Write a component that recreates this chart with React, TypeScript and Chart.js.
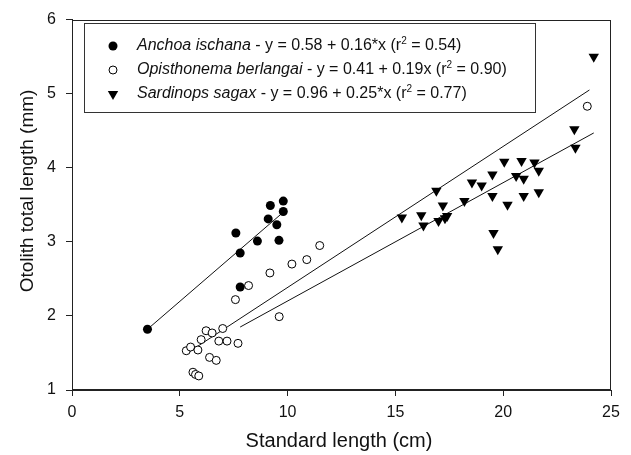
import React, { useEffect, useRef } from "react";
import { Chart, registerables } from "chart.js";

Chart.register(...registerables);

// ---- Data ----
const anchoaX = [3.5, 7.6, 7.8, 7.8, 8.6, 9.1, 9.2, 9.5, 9.6, 9.8, 9.8];
const anchoaY = [1.82, 3.12, 2.85, 2.39, 3.01, 3.31, 3.49, 3.23, 3.02, 3.55, 3.41];

const opisX = [5.3, 5.5, 5.61, 5.73, 5.84, 5.88, 5.99, 6.22, 6.38, 6.5, 6.69, 6.81, 6.99, 7.19, 7.58, 7.7, 8.19, 9.18, 9.61, 10.2, 10.89, 11.49, 23.9];
const opisY = [1.53, 1.58, 1.24, 1.21, 1.54, 1.19, 1.68, 1.8, 1.44, 1.77, 1.4, 1.66, 1.83, 1.66, 2.22, 1.63, 2.41, 2.58, 1.99, 2.7, 2.76, 2.95, 4.83];

const sardX = [15.3, 16.2, 16.3, 16.9, 17.0, 17.2, 17.3, 17.4, 18.2, 18.55, 19.0, 19.5, 19.5, 19.55, 19.75, 20.05, 20.2, 20.6, 20.85, 20.95, 20.95, 21.45, 21.65, 21.65, 23.3, 23.35, 24.2];
const sardY = [3.33, 3.36, 3.22, 3.69, 3.28, 3.49, 3.32, 3.35, 3.55, 3.8, 3.76, 3.91, 3.62, 3.12, 2.9, 4.08, 3.5, 3.89, 4.09, 3.85, 3.62, 4.07, 3.96, 3.67, 4.52, 4.27, 5.5];

// regression line end points (as drawn)
const anchoaLineX = [3.5, 9.8];
const anchoaLineY = [1.82, 3.4];
const opisLineX = [5.25, 24.0];
const opisLineY = [1.48, 5.05];
const sardLineX = [7.8, 24.2];
const sardLineY = [1.85, 4.47];

const xTicks = [0, 5, 10, 15, 20, 25];
const yTicks = [1, 2, 3, 4, 5, 6];

const legendNames = ["Anchoa ischana", "Opisthonema berlangai", "Sardinops sagax"];
const legendEquations = [" - y = 0.58 + 0.16*x (r", " - y = 0.41 + 0.19x (r", " - y = 0.96 + 0.25*x (r"];
const legendR2 = [" = 0.54)", " = 0.90)", " = 0.77)"];

const xTitle = "Standard length (cm)";
const yTitle = "Otolith total length (mm)";

const FONT = '"Liberation Sans", Arial, Helvetica, sans-serif';

function pts(xs: number[], ys: number[]) {
  return xs.map((x, i) => ({ x, y: ys[i] }));
}

export default function App() {
  const ref = useRef<HTMLCanvasElement>(null);

  useEffect(() => {
    document.body.style.margin = "0";
    const canvas = ref.current!;

    const decorPlugin = {
      id: "decor",
      afterDraw(chart: any) {
        const { ctx, chartArea: a } = chart;
        ctx.save();
        // frame
        ctx.strokeStyle = "#222";
        ctx.lineWidth = 1;
        ctx.strokeRect(Math.round(a.left) + 0.5, Math.round(a.top) + 0.5, Math.round(a.right - a.left) - 1, Math.round(a.bottom - a.top) - 1);

        // axis titles
        ctx.fillStyle = "#111";
        ctx.font = `20px ${FONT}`;
        ctx.textAlign = "center";
        ctx.textBaseline = "middle";
        ctx.fillText(xTitle, 339, 441);
        ctx.save();
        ctx.font = `19px ${FONT}`;
        ctx.translate(28, 191);
        ctx.rotate(-Math.PI / 2);
        ctx.fillText(yTitle, 0, 0);
        ctx.restore();

        // legend box
        const bx = 84, by = 23, bw = 451, bh = 89;
        ctx.fillStyle = "#fff";
        ctx.fillRect(bx, by, bw, bh);
        ctx.strokeStyle = "#333";
        ctx.strokeRect(bx + 0.5, by + 0.5, bw, bh);

        const rows = [46, 70, 94];
        const mx = 113;
        // markers
        ctx.fillStyle = "#000";
        ctx.strokeStyle = "#000";
        ctx.beginPath();
        ctx.arc(mx, rows[0], 4.5, 0, Math.PI * 2);
        ctx.fill();
        ctx.beginPath();
        ctx.fillStyle = "#fff";
        ctx.arc(mx, rows[1], 4, 0, Math.PI * 2);
        ctx.fill();
        ctx.stroke();
        ctx.fillStyle = "#000";
        const r = 6;
        ctx.beginPath();
        for (let k = 0; k < 3; k++) {
          const ang = Math.PI + (k * 2 * Math.PI) / 3;
          const px = mx + Math.sin(ang) * r;
          const py = rows[2] - Math.cos(ang) * r;
          if (k === 0) ctx.moveTo(px, py);
          else ctx.lineTo(px, py);
        }
        ctx.closePath();
        ctx.fill();

        // texts
        ctx.textAlign = "left";
        ctx.textBaseline = "middle";
        ctx.fillStyle = "#111";
        for (let i = 0; i < 3; i++) {
          let x = 137;
          const y = rows[i];
          ctx.font = `italic 16px ${FONT}`;
          ctx.fillText(legendNames[i], x, y);
          x += ctx.measureText(legendNames[i]).width;
          ctx.font = `16px ${FONT}`;
          ctx.fillText(legendEquations[i], x, y);
          x += ctx.measureText(legendEquations[i]).width;
          ctx.font = `10px ${FONT}`;
          ctx.fillText("2", x, y - 5);
          x += ctx.measureText("2").width;
          ctx.font = `16px ${FONT}`;
          ctx.fillText(legendR2[i], x, y);
        }
        ctx.restore();
      },
    };

    const chart = new Chart(canvas, {
      type: "scatter",
      data: {
        datasets: [
          {
            label: legendNames[0],
            data: pts(anchoaX, anchoaY),
            pointStyle: "circle",
            pointRadius: 4.5,
            backgroundColor: "#000",
            borderColor: "#000",
            borderWidth: 0,
          },
          {
            label: legendNames[1],
            data: pts(opisX, opisY),
            pointStyle: "circle",
            pointRadius: 4,
            backgroundColor: "#fff",
            borderColor: "#000",
            borderWidth: 1,
          },
          {
            label: legendNames[2],
            data: pts(sardX, sardY),
            pointStyle: "triangle",
            pointRotation: 180,
            pointRadius: 6,
            backgroundColor: "#000",
            borderColor: "#000",
            borderWidth: 0,
          },
          {
            label: "fit1",
            data: pts(anchoaLineX, anchoaLineY),
            showLine: true,
            pointRadius: 0,
            borderColor: "#111",
            borderWidth: 1,
          },
          {
            label: "fit2",
            data: pts(opisLineX, opisLineY),
            showLine: true,
            pointRadius: 0,
            borderColor: "#111",
            borderWidth: 1,
          },
          {
            label: "fit3",
            data: pts(sardLineX, sardLineY),
            showLine: true,
            pointRadius: 0,
            borderColor: "#111",
            borderWidth: 1,
          },
        ],
      },
      options: {
        responsive: false,
        animation: false,
        layout: { padding: { top: 16, right: 20, left: 0, bottom: 0 } },
        plugins: {
          legend: { display: false },
          tooltip: { enabled: false },
        },
        scales: {
          x: {
            type: "linear",
            min: 0,
            max: 25,
            afterBuildTicks: (s: any) => {
              s.ticks = xTicks.map((v) => ({ value: v }));
            },
            afterFit: (s: any) => {
              s.height = 65;
            },
            ticks: {
              color: "#111",
              padding: 7,
              font: { size: 16, family: FONT },
            },
            grid: { drawOnChartArea: false, drawTicks: true, tickLength: 6, color: "#222" },
            border: { display: true, color: "#222" },
          },
          y: {
            type: "linear",
            min: 1,
            max: 6,
            afterBuildTicks: (s: any) => {
              s.ticks = yTicks.map((v) => ({ value: v }));
            },
            afterFit: (s: any) => {
              s.width = 72;
            },
            ticks: {
              color: "#111",
              padding: 10,
              font: { size: 16, family: FONT },
            },
            grid: { drawOnChartArea: false, drawTicks: true, tickLength: 6, color: "#222" },
            border: { display: true, color: "#222" },
          },
        },
      },
      plugins: [decorPlugin],
    });

    return () => chart.destroy();
  }, []);

  return (
    <div style={{ width: 631, height: 455 }}>
      <canvas ref={ref} width={631} height={455} style={{ display: "block" }} />
    </div>
  );
}
